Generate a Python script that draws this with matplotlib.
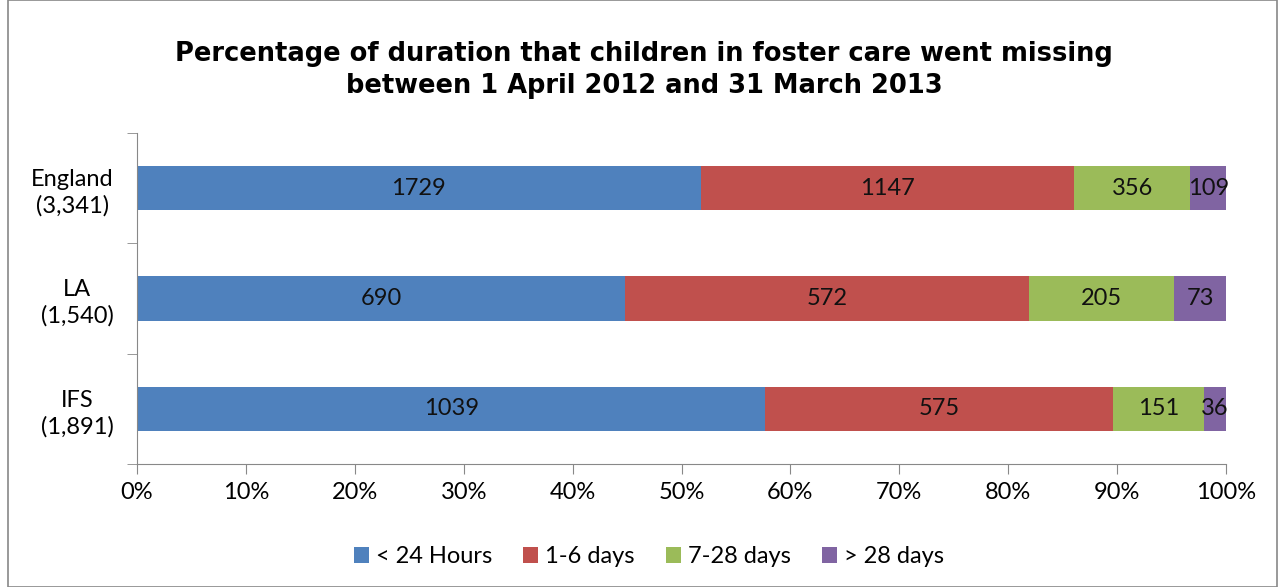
import numpy as np
import matplotlib.pyplot as plt
from matplotlib.patches import Rectangle
from matplotlib.ticker import PercentFormatter

groups = ["England\n(3,341)", "LA\n(1,540)", "IFS\n(1,891)"]
series = ["< 24 Hours", "1-6 days", "7-28 days", "> 28 days"]
under_24h = [1729, 690, 1039]
days_1_6 = [1147, 572, 575]
days_7_28 = [356, 205, 151]
over_28 = [109, 73, 36]
colors = ["#4F81BD", "#C0504D", "#9BBB59", "#8064A2"]

counts = np.array([under_24h, days_1_6, days_7_28, over_28], dtype=float)
shares = counts / counts.sum(axis=0)

plt.rcParams['font.family'] = ['Lato', 'DejaVu Sans']
fs = 17

fig = plt.figure(figsize=(12.8, 5.87), dpi=100)
ax = fig.add_axes([137 / 1280, 1 - 464 / 587, (1226 - 137) / 1280, (464 - 133) / 587])
fig.add_artist(Rectangle((8 / 1280, 0), 1 - 8 / 1280 - 0.002, 1, transform=fig.transFigure,
                         fill=False, edgecolor="#888888", lw=1.2))

ypos = np.arange(len(groups))
left = np.zeros(len(groups))
for i, name in enumerate(series):
    bars = ax.barh(ypos, shares[i], left=left, height=0.4, color=colors[i],
                   label=name, edgecolor="none")
    for j, b in enumerate(bars):
        ax.text(left[j] + shares[i][j] / 2, ypos[j], f"{int(counts[i][j])}",
                ha="center", va="center", fontsize=fs, color="#111111")
    left += shares[i]

ax.set_xlim(0, 1)
ax.set_ylim(2.5, -0.5)
ax.xaxis.set_major_locator(plt.MultipleLocator(0.1))
ax.xaxis.set_major_formatter(PercentFormatter(1.0, decimals=0))
ax.set_yticks(ypos)
ax.set_yticklabels(groups, fontsize=fs, multialignment="center", linespacing=1.3)
ax.set_yticks([-0.5, 0.5, 1.5, 2.5], minor=True)
ax.tick_params(axis="y", which="major", length=0, pad=17)
ax.tick_params(axis="y", which="minor", length=7, color="#888888", direction="out")
ax.tick_params(axis="x", length=7, color="#888888", labelsize=fs, pad=6)
for s in ["top", "right"]:
    ax.spines[s].set_visible(False)
for s in ["left", "bottom"]:
    ax.spines[s].set_color("#888888")

fig.text(0.503, 0.88, "Percentage of duration that children in foster care went missing\nbetween 1 April 2012 and 31 March 2013",
         ha="center", va="center", fontsize=18.5, fontweight="bold", family="DejaVu Sans",
         linespacing=1.3)

ax.legend(loc="center", bbox_to_anchor=(0.47, -0.28), ncol=4, frameon=False,
          prop={"size": fs}, handlelength=0.65, handleheight=0.65,
          handletextpad=0.3, columnspacing=1.3)

plt.savefig("out.png", dpi=100)
